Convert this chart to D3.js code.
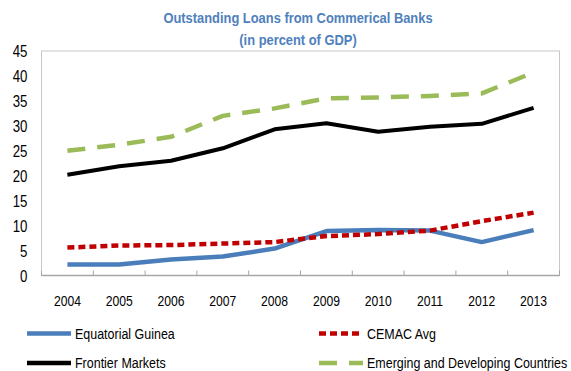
<!DOCTYPE html>
<html>
<head>
<meta charset="utf-8">
<script src="https://cdn.jsdelivr.net/npm/d3@7"></script>
<style>
  html, body { margin: 0; padding: 0; background: #fff; }
  svg { display: block; font-family: "Liberation Sans", Arial, sans-serif; }
</style>
</head>
<body>
<svg id="chart" width="571" height="371"></svg>
<script>
// Outstanding loans from commercial banks, percent of GDP
const years = ["2004", "2005", "2006", "2007", "2008", "2009", "2010", "2011", "2012", "2013"];
const equatorialGuinea = [2.2, 2.2, 3.2, 3.8, 5.4, 8.9, 9.1, 9.0, 6.7, 9.1];
const cemacAvg = [5.6, 6.0, 6.1, 6.4, 6.7, 7.9, 8.3, 9.0, 10.9, 12.6];
const frontierMarkets = [20.2, 21.9, 23.0, 25.5, 29.3, 30.5, 28.8, 29.8, 30.4, 33.6];
const emergingDeveloping = [25.0, 26.2, 27.8, 32.0, 33.5, 35.5, 35.7, 36.0, 36.5, 40.7];
const yTicks = [0, 5, 10, 15, 20, 25, 30, 35, 40, 45];
const titleLines = ["Outstanding Loans from Commerical Banks", "(in percent of GDP)"];

const series = [
  { name: "Equatorial Guinea", values: equatorialGuinea, color: "#4A7EBB", dash: null, width: 4.5 },
  { name: "CEMAC Avg", values: cemacAvg, color: "#C00000", dash: "7,4", width: 4.5 },
  { name: "Frontier Markets", values: frontierMarkets, color: "#000000", dash: null, width: 4 },
  { name: "Emerging and Developing Countries", values: emergingDeveloping, color: "#9BBB59", dash: "18,12", width: 4.5 }
];

const svg = d3.select("#chart");
const plot = { left: 41.5, right: 559.5, top: 51, bottom: 275.5 };

const x = d3.scaleBand().domain(years).range([plot.left, plot.right]);
const y = d3.scaleLinear().domain([0, 45]).range([plot.bottom, plot.top]);

// Narrow text: horizontally condensed via scale transform
function narrowText(sel, px, py, sx) {
  return sel.attr("transform", (d, i) => `translate(${px(d, i)},${py(d, i)}) scale(${sx},1)`);
}

// Title
narrowText(
  svg.append("g").selectAll("text").data(titleLines).join("text"),
  () => 298, (d, i) => 23 + i * 22, 0.86)
  .attr("text-anchor", "middle")
  .attr("font-size", 15).attr("font-weight", "bold")
  .attr("fill", "#4F81BD")
  .text(d => d);

// Plot frame
svg.append("rect")
  .attr("x", plot.left).attr("y", plot.top)
  .attr("width", plot.right - plot.left).attr("height", plot.bottom - plot.top)
  .attr("fill", "none").attr("stroke", "#C8C8C8").attr("stroke-width", 1);

// Y axis labels
narrowText(
  svg.append("g").selectAll("text").data(yTicks).join("text"),
  () => 27.5, d => y(d), 0.78)
  .attr("dy", "0.36em")
  .attr("text-anchor", "end")
  .attr("font-size", 17).attr("fill", "#000")
  .text(d => d);

// X axis line with inward ticks at category boundaries
svg.append("line")
  .attr("x1", plot.left).attr("x2", plot.right)
  .attr("y1", plot.bottom).attr("y2", plot.bottom)
  .attr("stroke", "#A6A6A6").attr("stroke-width", 1.5);
const boundaries = years.map(d => x(d)).concat([plot.right]);
svg.append("g").selectAll("line").data(boundaries).join("line")
  .attr("x1", d => d).attr("x2", d => d)
  .attr("y1", plot.bottom).attr("y2", plot.bottom - 5)
  .attr("stroke", "#A6A6A6").attr("stroke-width", 1);

narrowText(
  svg.append("g").selectAll("text").data(years).join("text"),
  d => x(d) + x.bandwidth() / 2, () => 306, 0.79)
  .attr("text-anchor", "middle")
  .attr("font-size", 15.4).attr("fill", "#000")
  .text(d => d);

// Series lines
const line = d3.line()
  .x((v, i) => x(years[i]) + x.bandwidth() / 2)
  .y(v => y(v));

svg.append("g").selectAll("path").data(series).join("path")
  .attr("d", d => line(d.values))
  .attr("fill", "none")
  .attr("stroke", d => d.color)
  .attr("stroke-width", d => d.width)
  .attr("stroke-dasharray", d => d.dash)
  .attr("stroke-linejoin", "round");

// Legend
const legendPos = [
  { x: 27, y: 333.5 }, { x: 319, y: 333.5 },
  { x: 27, y: 363 }, { x: 319, y: 363 }
];
const legend = svg.append("g").selectAll("g").data(series).join("g")
  .attr("transform", (d, i) => `translate(${legendPos[i].x},${legendPos[i].y})`);
legend.append("line")
  .attr("x1", 0).attr("x2", 44).attr("y1", 0).attr("y2", 0)
  .attr("stroke", d => d.color).attr("stroke-width", 4.5)
  .attr("stroke-dasharray", d => d.dash);
legend.append("text")
  .attr("transform", "translate(48,0) scale(0.86,1)")
  .attr("dy", "0.36em")
  .attr("font-size", 14.5).attr("fill", "#000")
  .text(d => d.name);
</script>
</body>
</html>
